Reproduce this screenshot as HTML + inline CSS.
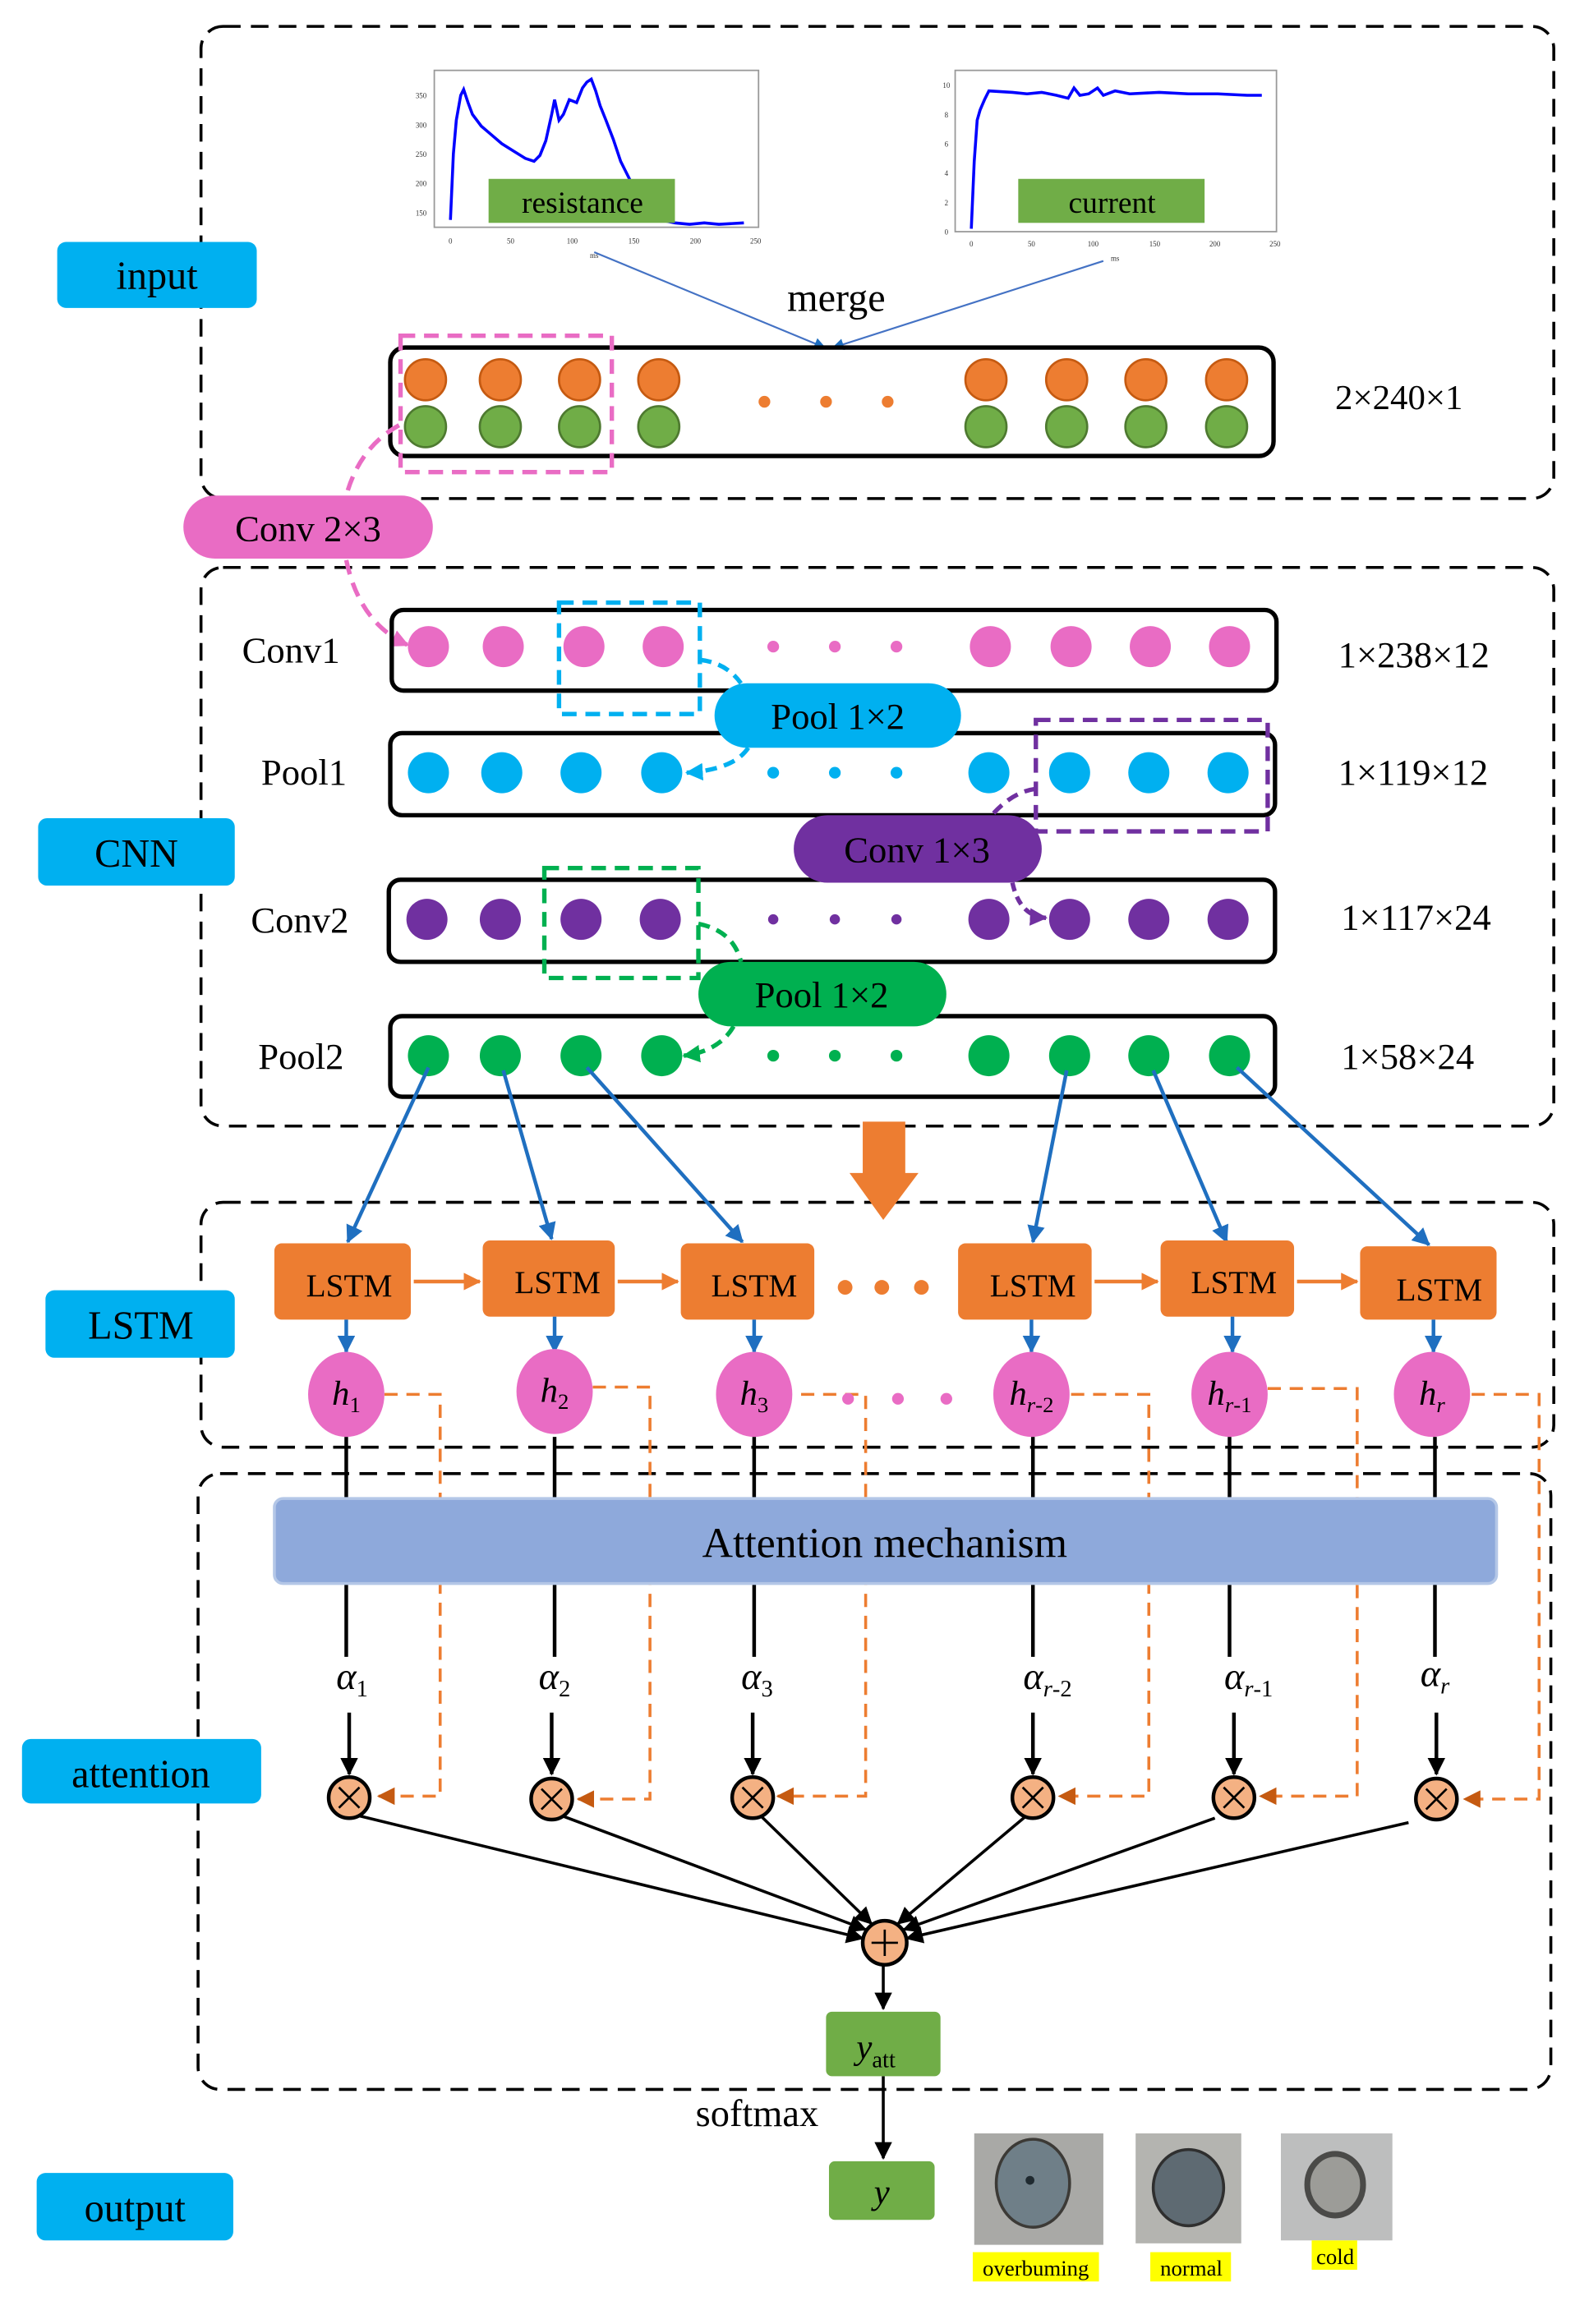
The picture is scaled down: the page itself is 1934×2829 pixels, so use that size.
<!DOCTYPE html>
<html><head><meta charset="utf-8"><style>
html,body{margin:0;padding:0;background:#fff;}
svg{display:block;}
text{font-family:"Liberation Serif",serif;}
</style></head><body>
<svg width="1934" height="2829" viewBox="0 0 1083 1585" preserveAspectRatio="none" xmlns="http://www.w3.org/2000/svg">
<defs>
<marker id="ab" markerWidth="8" markerHeight="8" refX="7" refY="4" orient="auto" markerUnits="userSpaceOnUse"><path d="M0,0 L8,4 L0,8 z" fill="#1F6FC0"/></marker>
<marker id="ab2" markerWidth="12" markerHeight="12" refX="11" refY="6" orient="auto" markerUnits="userSpaceOnUse"><path d="M0,0 L12,6 L0,12 z" fill="#1F6FC0"/></marker>
<marker id="ak" markerWidth="12" markerHeight="12" refX="11" refY="6" orient="auto" markerUnits="userSpaceOnUse"><path d="M0,0 L12,6 L0,12 z" fill="#000"/></marker>
<marker id="ao" markerWidth="12" markerHeight="12" refX="11" refY="6" orient="auto" markerUnits="userSpaceOnUse"><path d="M0,0 L12,6 L0,12 z" fill="#C55A11"/></marker>
<marker id="ao2" markerWidth="12" markerHeight="12" refX="11" refY="6" orient="auto" markerUnits="userSpaceOnUse"><path d="M0,0 L12,6 L0,12 z" fill="#ED7D31"/></marker>
<marker id="ap" markerWidth="12" markerHeight="12" refX="11" refY="6" orient="auto" markerUnits="userSpaceOnUse"><path d="M0,0 L12,6 L0,12 z" fill="#E96CC4"/></marker>
<marker id="ac" markerWidth="12" markerHeight="12" refX="11" refY="6" orient="auto" markerUnits="userSpaceOnUse"><path d="M0,0 L12,6 L0,12 z" fill="#00B0F0"/></marker>
<marker id="av" markerWidth="12" markerHeight="12" refX="11" refY="6" orient="auto" markerUnits="userSpaceOnUse"><path d="M0,0 L12,6 L0,12 z" fill="#7030A0"/></marker>
<marker id="ag" markerWidth="12" markerHeight="12" refX="11" refY="6" orient="auto" markerUnits="userSpaceOnUse"><path d="M0,0 L12,6 L0,12 z" fill="#00B050"/></marker>
</defs>

<!-- dashed group boxes -->
<g fill="none" stroke="#000" stroke-width="2" stroke-dasharray="12,7">
<rect x="137" y="18" width="922" height="322" rx="15"/>
<rect x="137" y="387" width="922" height="381" rx="15"/>
<rect x="137" y="820" width="922" height="167" rx="15"/>
<rect x="135" y="1005" width="922" height="420" rx="15"/>
</g>

<!-- side labels -->
<g font-size="27" text-anchor="middle">
<rect x="39" y="165" width="136" height="45" rx="6" fill="#00B0F0"/><text x="107" y="197">input</text>
<rect x="26" y="558" width="134" height="46" rx="6" fill="#00B0F0"/><text x="93" y="591">CNN</text>
<rect x="31" y="880" width="129" height="46" rx="6" fill="#00B0F0"/><text x="96" y="913">LSTM</text>
<rect x="15" y="1186" width="163" height="44" rx="6" fill="#00B0F0"/><text x="96" y="1219">attention</text>
<rect x="25" y="1482" width="134" height="46" rx="6" fill="#00B0F0"/><text x="92" y="1515">output</text>
</g>

<!-- plots -->
<g font-family="Liberation Sans,sans-serif">
<rect x="296" y="48" width="221" height="107" fill="#fff" stroke="#999" stroke-width="1"/>
<polyline fill="none" stroke="#0000FF" stroke-width="2" points="307,150 309,105 311,82 314,65 316,61 319,70 322,78 328,86 335,92 342,98 350,103 358,108 364,110 368,106 372,96 376,78 378,68 381,82 384,78 388,68 393,70 397,60 400,56 403,54 406,62 409,72 413,82 418,95 423,110 430,124 436,137 440,146 450,150 460,152 470,153 480,152 490,153 507,152"/>
<rect x="333" y="122" width="127" height="30" fill="#70AD47"/>
<text x="397" y="145" font-family="Liberation Serif,serif" font-size="21" text-anchor="middle">resistance</text>
<g font-size="5" fill="#333" text-anchor="middle">
<text x="307" y="166">0</text><text x="348" y="166">50</text><text x="390" y="166">100</text><text x="432" y="166">150</text><text x="474" y="166">200</text><text x="515" y="166">250</text>
<text x="405" y="176">ms</text>
<text x="287" y="67">350</text><text x="287" y="87">300</text><text x="287" y="107">250</text><text x="287" y="127">200</text><text x="287" y="147">150</text>
</g>
<rect x="651" y="48" width="219" height="110" fill="#fff" stroke="#999" stroke-width="1"/>
<polyline fill="none" stroke="#0000FF" stroke-width="2" points="662,156 664,110 666,82 668,75 671,68 674,62 690,63 700,64 710,63 720,65 728,67 732,60 736,65 742,64 748,60 752,65 760,62 770,64 790,63 810,64 830,64 850,65 860,65"/>
<rect x="694" y="122" width="127" height="30" fill="#70AD47"/>
<text x="758" y="145" font-family="Liberation Serif,serif" font-size="21" text-anchor="middle">current</text>
<g font-size="5" fill="#333" text-anchor="middle">
<text x="662" y="168">0</text><text x="703" y="168">50</text><text x="745" y="168">100</text><text x="787" y="168">150</text><text x="828" y="168">200</text><text x="869" y="168">250</text>
<text x="760" y="178">ms</text>
<text x="645" y="60">10</text><text x="645" y="80">8</text><text x="645" y="100">6</text><text x="645" y="120">4</text><text x="645" y="140">2</text><text x="645" y="160">0</text>
</g>
</g>

<text x="570" y="212" font-size="27" text-anchor="middle">merge</text>
<line x1="405" y1="172" x2="562" y2="237" stroke="#4472C4" stroke-width="1.2" marker-end="url(#ab)"/>
<line x1="752" y1="178" x2="568" y2="237" stroke="#4472C4" stroke-width="1.2" marker-end="url(#ab)"/>

<!-- input array -->
<rect x="266" y="237" width="602" height="74" rx="10" fill="none" stroke="#000" stroke-width="3"/>
<g stroke-width="1.5">
<g fill="#ED7D31" stroke="#C55A11">
<circle cx="290" cy="259" r="14"/><circle cx="341" cy="259" r="14"/><circle cx="395" cy="259" r="14"/><circle cx="449" cy="259" r="14"/>
<circle cx="672" cy="259" r="14"/><circle cx="727" cy="259" r="14"/><circle cx="781" cy="259" r="14"/><circle cx="836" cy="259" r="14"/>
</g>
<g fill="#70AD47" stroke="#4E7A30">
<circle cx="290" cy="291" r="14"/><circle cx="341" cy="291" r="14"/><circle cx="395" cy="291" r="14"/><circle cx="449" cy="291" r="14"/>
<circle cx="672" cy="291" r="14"/><circle cx="727" cy="291" r="14"/><circle cx="781" cy="291" r="14"/><circle cx="836" cy="291" r="14"/>
</g>
</g>
<g fill="#ED7D31"><circle cx="521" cy="274" r="4"/><circle cx="563" cy="274" r="4"/><circle cx="605" cy="274" r="4"/></g>
<rect x="273" y="229" width="144" height="93" fill="none" stroke="#E96CC4" stroke-width="3" stroke-dasharray="10,6"/>
<text x="910" y="279" font-size="24">2×240×1</text>

<!-- Conv 2x3 -->
<path d="M272,290 Q245,305 236,338" fill="none" stroke="#E96CC4" stroke-width="3" stroke-dasharray="10,6"/>
<path d="M236,382 Q245,425 278,440" fill="none" stroke="#E96CC4" stroke-width="3" stroke-dasharray="10,6" marker-end="url(#ap)"/>
<rect x="125" y="338" width="170" height="43" rx="21.5" fill="#E96CC4"/>
<text x="210" y="369" font-size="25" text-anchor="middle">Conv 2×3</text>

<!-- CNN rows -->
<g font-size="25">
<text x="165" y="452">Conv1</text><text x="178" y="535">Pool1</text><text x="171" y="636">Conv2</text><text x="176" y="729">Pool2</text>
<text x="912" y="455">1×238×12</text><text x="912" y="535">1×119×12</text><text x="914" y="634">1×117×24</text><text x="914" y="729">1×58×24</text>
</g>
<g fill="none" stroke="#000" stroke-width="3">
<rect x="267" y="416" width="603" height="55" rx="8"/>
<rect x="266" y="500" width="603" height="56" rx="8"/>
<rect x="265" y="600" width="604" height="56" rx="8"/>
<rect x="266" y="693" width="603" height="55" rx="8"/>
</g>
<g fill="#E96CC4">
<circle cx="292" cy="441" r="14"/><circle cx="343" cy="441" r="14"/><circle cx="398" cy="441" r="14"/><circle cx="452" cy="441" r="14"/>
<circle cx="675" cy="441" r="14"/><circle cx="730" cy="441" r="14"/><circle cx="784" cy="441" r="14"/><circle cx="838" cy="441" r="14"/>
<circle cx="527" cy="441" r="4"/><circle cx="569" cy="441" r="4"/><circle cx="611" cy="441" r="4"/>
</g>
<g fill="#00B0F0">
<circle cx="292" cy="527" r="14"/><circle cx="342" cy="527" r="14"/><circle cx="396" cy="527" r="14"/><circle cx="451" cy="527" r="14"/>
<circle cx="674" cy="527" r="14"/><circle cx="729" cy="527" r="14"/><circle cx="783" cy="527" r="14"/><circle cx="837" cy="527" r="14"/>
<circle cx="527" cy="527" r="4"/><circle cx="569" cy="527" r="4"/><circle cx="611" cy="527" r="4"/>
</g>
<g fill="#7030A0">
<circle cx="291" cy="627" r="14"/><circle cx="341" cy="627" r="14"/><circle cx="396" cy="627" r="14"/><circle cx="450" cy="627" r="14"/>
<circle cx="674" cy="627" r="14"/><circle cx="729" cy="627" r="14"/><circle cx="783" cy="627" r="14"/><circle cx="837" cy="627" r="14"/>
<circle cx="527" cy="627" r="3.5"/><circle cx="569" cy="627" r="3.5"/><circle cx="611" cy="627" r="3.5"/>
</g>
<g fill="#00B050">
<circle cx="292" cy="720" r="14"/><circle cx="341" cy="720" r="14"/><circle cx="396" cy="720" r="14"/><circle cx="451" cy="720" r="14"/>
<circle cx="674" cy="720" r="14"/><circle cx="729" cy="720" r="14"/><circle cx="783" cy="720" r="14"/><circle cx="838" cy="720" r="14"/>
<circle cx="527" cy="720" r="4"/><circle cx="569" cy="720" r="4"/><circle cx="611" cy="720" r="4"/>
</g>

<!-- dashed selection rects -->
<rect x="381" y="411" width="96" height="76" fill="none" stroke="#00B0F0" stroke-width="3" stroke-dasharray="10,6"/>
<rect x="706" y="491" width="158" height="76" fill="none" stroke="#7030A0" stroke-width="3" stroke-dasharray="10,6"/>
<rect x="371" y="592" width="105" height="75" fill="none" stroke="#00B050" stroke-width="3" stroke-dasharray="10,6"/>

<path d="M477,450 Q495,452 505,466" fill="none" stroke="#00B0F0" stroke-width="3" stroke-dasharray="8,5"/>
<path d="M510,510 Q500,525 468,527" fill="none" stroke="#00B0F0" stroke-width="3" stroke-dasharray="8,5" marker-end="url(#ac)"/>
<path d="M706,538 Q690,540 676,556" fill="none" stroke="#7030A0" stroke-width="3" stroke-dasharray="8,5"/>
<path d="M690,602 Q695,625 713,626" fill="none" stroke="#7030A0" stroke-width="3" stroke-dasharray="6,4" marker-end="url(#av)"/>
<path d="M476,630 Q500,635 505,656" fill="none" stroke="#00B050" stroke-width="3" stroke-dasharray="8,5"/>
<path d="M500,700 Q490,717 466,720" fill="none" stroke="#00B050" stroke-width="3" stroke-dasharray="8,5" marker-end="url(#ag)"/>

<rect x="487" y="466" width="168" height="44" rx="22" fill="#00B0F0"/>
<text x="571" y="497" font-size="25" text-anchor="middle">Pool 1×2</text>
<rect x="541" y="556" width="169" height="46" rx="23" fill="#7030A0"/>
<text x="625" y="588" font-size="25" text-anchor="middle">Conv 1×3</text>
<rect x="476" y="656" width="169" height="44" rx="22" fill="#00B050"/>
<text x="560" y="687" font-size="25" text-anchor="middle">Pool 1×2</text>

<!-- big orange arrow -->
<path d="M588,765 L617,765 L617,800 L626,800 L602,832 L579,800 L588,800 z" fill="#ED7D31"/>

<!-- blue connectors -->
<g stroke="#1F6FC0" stroke-width="2.5" marker-end="url(#ab2)">
<line x1="292" y1="728" x2="237" y2="847"/>
<line x1="343" y1="730" x2="376" y2="845"/>
<line x1="400" y1="728" x2="506" y2="847"/>
<line x1="727" y1="730" x2="704" y2="847"/>
<line x1="786" y1="730" x2="836" y2="847"/>
<line x1="843" y1="728" x2="974" y2="849"/>
</g>

<!-- LSTM -->
<g fill="#ED7D31">
<rect x="187" y="848" width="93" height="52" rx="5"/>
<rect x="329" y="846" width="90" height="52" rx="5"/>
<rect x="464" y="848" width="91" height="52" rx="5"/>
<rect x="653" y="848" width="91" height="52" rx="5"/>
<rect x="791" y="846" width="91" height="52" rx="5"/>
<rect x="927" y="850" width="93" height="50" rx="5"/>
<circle cx="576" cy="878" r="5"/><circle cx="601" cy="878" r="5"/><circle cx="628" cy="878" r="5"/>
</g>
<g font-size="22" text-anchor="middle">
<text x="238" y="884">LSTM</text><text x="380" y="882">LSTM</text><text x="514" y="884">LSTM</text>
<text x="704" y="884">LSTM</text><text x="841" y="882">LSTM</text><text x="981" y="887">LSTM</text>
</g>
<g stroke="#ED7D31" stroke-width="2.5" marker-end="url(#ao2)">
<line x1="282" y1="874" x2="327" y2="874"/><line x1="421" y1="874" x2="462" y2="874"/>
<line x1="746" y1="874" x2="789" y2="874"/><line x1="884" y1="874" x2="925" y2="874"/>
</g>
<g stroke="#1F6FC0" stroke-width="2.5" marker-end="url(#ab2)">
<line x1="236" y1="900" x2="236" y2="922"/><line x1="378" y1="898" x2="378" y2="922"/><line x1="514" y1="900" x2="514" y2="922"/>
<line x1="703" y1="900" x2="703" y2="922"/><line x1="840" y1="898" x2="840" y2="922"/><line x1="977" y1="900" x2="977" y2="922"/>
</g>

<!-- black vertical lines -->
<g stroke="#000" stroke-width="2.5">
<line x1="236" y1="980" x2="236" y2="1022"/><line x1="378" y1="980" x2="378" y2="1022"/><line x1="514" y1="980" x2="514" y2="1022"/>
<line x1="704" y1="980" x2="704" y2="1022"/><line x1="838" y1="980" x2="838" y2="1022"/><line x1="978" y1="980" x2="978" y2="1022"/>
<line x1="236" y1="1080" x2="236" y2="1130"/><line x1="378" y1="1080" x2="378" y2="1130"/><line x1="514" y1="1080" x2="514" y2="1130"/>
<line x1="704" y1="1080" x2="704" y2="1130"/><line x1="838" y1="1080" x2="838" y2="1130"/><line x1="978" y1="1080" x2="978" y2="1130"/>
</g>
<g stroke="#000" stroke-width="2.5" marker-end="url(#ak)">
<line x1="238" y1="1168" x2="238" y2="1210"/><line x1="376" y1="1168" x2="376" y2="1210"/><line x1="513" y1="1168" x2="513" y2="1210"/>
<line x1="704" y1="1168" x2="704" y2="1210"/><line x1="841" y1="1168" x2="841" y2="1210"/><line x1="979" y1="1168" x2="979" y2="1210"/>
</g>

<!-- orange dashed feedback lines -->
<g fill="none" stroke="#ED7D31" stroke-width="2" stroke-dasharray="9,6">
<polyline points="262,951 300,951 300,1225 258,1225" marker-end="url(#ao)"/>
<polyline points="404,946 443,946 443,1227 394,1227" marker-end="url(#ao)"/>
<polyline points="546,951 590,951 590,1225 530,1225" marker-end="url(#ao)"/>
<polyline points="730,951 783,951 783,1225 722,1225" marker-end="url(#ao)"/>
<polyline points="864,947 925,947 925,1225 859,1225" marker-end="url(#ao)"/>
<polyline points="1003,951 1049,951 1049,1227 998,1227" marker-end="url(#ao)"/>
</g>
<g fill="#E96CC4"><circle cx="578" cy="954" r="4"/><circle cx="612" cy="954" r="4"/><circle cx="645" cy="954" r="4"/></g>

<!-- h circles -->
<g fill="#E96CC4">
<ellipse cx="236" cy="951" rx="26" ry="29"/><ellipse cx="378" cy="949" rx="26" ry="29"/><ellipse cx="514" cy="951" rx="26" ry="29"/>
<ellipse cx="703" cy="951" rx="26" ry="29"/><ellipse cx="838" cy="951" rx="26" ry="29"/><ellipse cx="976" cy="951" rx="26" ry="29"/>
</g>
<g font-size="24" font-style="italic" text-anchor="middle">
<text x="236" y="958">h<tspan font-size="15" font-style="normal" dy="5">1</tspan></text>
<text x="378" y="956">h<tspan font-size="15" font-style="normal" dy="5">2</tspan></text>
<text x="514" y="958">h<tspan font-size="15" font-style="normal" dy="5">3</tspan></text>
<text x="703" y="958">h<tspan font-size="15" dy="5">r</tspan><tspan font-size="15" font-style="normal">-2</tspan></text>
<text x="838" y="958">h<tspan font-size="15" dy="5">r</tspan><tspan font-size="15" font-style="normal">-1</tspan></text>
<text x="976" y="958">h<tspan font-size="15" dy="5">r</tspan></text>
</g>

<!-- attention bar -->
<rect x="187" y="1022" width="833" height="58" rx="6" fill="#8EA9DB" stroke="#B4C7E7" stroke-width="2"/>
<text x="603" y="1062" font-size="29" text-anchor="middle">Attention mechanism</text>

<!-- alpha labels -->
<g font-size="26" font-style="italic" text-anchor="middle">
<text x="240" y="1152">α<tspan font-size="16" font-style="normal" dy="5">1</tspan></text>
<text x="378" y="1152">α<tspan font-size="16" font-style="normal" dy="5">2</tspan></text>
<text x="516" y="1152">α<tspan font-size="16" font-style="normal" dy="5">3</tspan></text>
<text x="714" y="1152">α<tspan font-size="16" dy="5">r</tspan><tspan font-size="16" font-style="normal">-2</tspan></text>
<text x="851" y="1152">α<tspan font-size="16" dy="5">r</tspan><tspan font-size="16" font-style="normal">-1</tspan></text>
<text x="978" y="1150">α<tspan font-size="16" dy="5">r</tspan></text>
</g>

<!-- converging arrows -->
<g stroke="#000" stroke-width="2" marker-end="url(#ak)">
<line x1="243" y1="1238" x2="588" y2="1322"/>
<line x1="382" y1="1238" x2="590" y2="1316"/>
<line x1="518" y1="1238" x2="594" y2="1312"/>
<line x1="700" y1="1238" x2="612" y2="1312"/>
<line x1="828" y1="1240" x2="616" y2="1316"/>
<line x1="960" y1="1243" x2="618" y2="1322"/>
<line x1="602" y1="1340" x2="602" y2="1370"/>
<line x1="602" y1="1416" x2="602" y2="1472"/>
</g>

<!-- multiply circles -->
<g fill="#F4B183" stroke="#000" stroke-width="2.5">
<circle cx="238" cy="1226" r="14"/><circle cx="376" cy="1227" r="14"/><circle cx="513" cy="1226" r="14"/>
<circle cx="704" cy="1226" r="14"/><circle cx="841" cy="1226" r="14"/><circle cx="979" cy="1227" r="14"/>
<circle cx="603" cy="1325" r="15"/>
</g>
<g stroke="#000" stroke-width="1.5">
<path d="M231,1219 L245,1233 M245,1219 L231,1233"/>
<path d="M369,1220 L383,1234 M383,1220 L369,1234"/>
<path d="M506,1219 L520,1233 M520,1219 L506,1233"/>
<path d="M697,1219 L711,1233 M711,1219 L697,1233"/>
<path d="M834,1219 L848,1233 M848,1219 L834,1233"/>
<path d="M972,1220 L986,1234 M986,1220 L972,1234"/>
<path d="M603,1316 L603,1334 M594,1325 L612,1325"/>
</g>

<!-- outputs -->
<rect x="563" y="1372" width="78" height="44" rx="4" fill="#70AD47"/>
<text x="597" y="1404" font-size="24" font-style="italic" text-anchor="middle">y<tspan font-size="16" font-style="normal" dy="6">att</tspan></text>
<text x="516" y="1450" font-size="26" text-anchor="middle">softmax</text>
<rect x="565" y="1474" width="72" height="40" rx="4" fill="#70AD47"/>
<text x="601" y="1503" font-size="24" font-style="italic" text-anchor="middle">y</text>

<!-- photos -->
<rect x="664" y="1455" width="88" height="76" fill="#A9A9A6"/>
<ellipse cx="704" cy="1489" rx="25" ry="30" fill="#6F7F88" stroke="#3C3A36" stroke-width="2"/>
<circle cx="702" cy="1487" r="3" fill="#1F2A30"/>
<rect x="774" y="1455" width="72" height="75" fill="#B4B4B0"/>
<ellipse cx="810" cy="1492" rx="24" ry="26" fill="#5E6A72" stroke="#2F2F2F" stroke-width="2"/>
<rect x="873" y="1455" width="76" height="73" fill="#BDBEBE"/>
<ellipse cx="910" cy="1490" rx="19" ry="21" fill="#9C9C98" stroke="#4A4A48" stroke-width="4"/>
<g font-size="15" text-anchor="middle">
<rect x="663" y="1536" width="86" height="20" fill="#FFFF00"/><text x="706" y="1552">overbuming</text>
<rect x="784" y="1536" width="55" height="20" fill="#FFFF00"/><text x="812" y="1552">normal</text>
<rect x="894" y="1528" width="31" height="20" fill="#FFFF00"/><text x="910" y="1544">cold</text>
</g>
</svg>
</body></html>
